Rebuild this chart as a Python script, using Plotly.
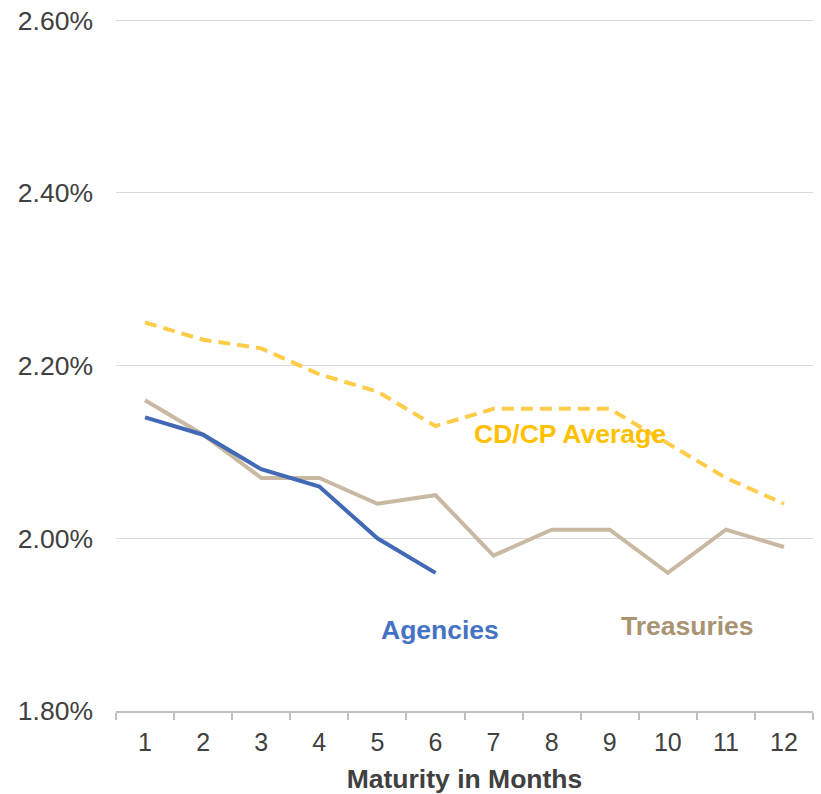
import plotly.graph_objects as go

months = list(range(1, 13))
month_labels = [str(m) for m in months]
cdcp_avg = [2.25, 2.23, 2.22, 2.19, 2.17, 2.13, 2.15, 2.15, 2.15, 2.11, 2.07, 2.04]
treasuries = [2.16, 2.12, 2.07, 2.07, 2.04, 2.05, 1.98, 2.01, 2.01, 1.96, 2.01, 1.99]
agency_months = [1, 2, 3, 4, 5, 6]
agencies = [2.14, 2.12, 2.08, 2.06, 2.00, 1.96]
y_ticks = [1.80, 2.00, 2.20, 2.40, 2.60]
y_tick_labels = ["1.80%", "2.00%", "2.20%", "2.40%", "2.60%"]

FONT = "Liberation Sans, Arial, sans-serif"
FS = 26.5

fig = go.Figure()
fig.add_trace(go.Scatter(x=months, y=cdcp_avg, mode="lines", name="CD/CP Average",
                         line=dict(color="#FFCC4A", width=4, dash="12px,7px")))
fig.add_trace(go.Scatter(x=months, y=treasuries, mode="lines", name="Treasuries",
                         line=dict(color="#C9B9A2", width=4)))
fig.add_trace(go.Scatter(x=agency_months, y=agencies, mode="lines", name="Agencies",
                         line=dict(color="#4169B5", width=4)))

ann_font = dict(family=FONT, size=FS)
fig.add_annotation(x=8.31, y=2.121, text="<b>CD/CP Average</b>", showarrow=False,
                   font=dict(ann_font, color="#FFC000"))
fig.add_annotation(x=6.07, y=1.894, text="<b>Agencies</b>", showarrow=False,
                   font=dict(ann_font, color="#4472C4"))
fig.add_annotation(x=10.34, y=1.898, text="<b>Treasuries</b>", showarrow=False,
                   font=dict(ann_font, color="#A89474"))

fig.update_layout(
    width=821, height=794,
    margin=dict(l=116, r=8, t=19, b=83, autoexpand=False),
    paper_bgcolor="white", plot_bgcolor="white",
    showlegend=False,
    font=dict(family=FONT, size=FS, color="#404040"),
    xaxis=dict(range=[0.5, 12.5], tickvals=months, ticktext=month_labels, automargin=False,
               showgrid=False, zeroline=False, showline=True, linecolor="#BFBFBF", linewidth=2,
               ticks="", ticklen=0, ticklabelstandoff=8,
               minor=dict(ticks="outside", tick0=0.5, dtick=1, ticklen=7, tickcolor="#BFBFBF", tickwidth=2, showgrid=False),
               tickfont=dict(size=25, color="#404040"),
               title=dict(text="<b>Maturity in Months</b>", font=dict(size=FS, color="#404040"), standoff=14)),
    yaxis=dict(range=[1.80, 2.6015], tickvals=y_ticks, ticktext=y_tick_labels, automargin=False,
               showgrid=True, gridcolor="#D9D9D9", gridwidth=1, zeroline=False, showline=False,
               ticks="", ticklabelstandoff=22, ticklabeloverflow="allow",
               tickfont=dict(size=FS, color="#404040")),
)

fig.write_html("out.html", config={"displayModeBar": False},
               post_script="document.body.style.margin='0';")
